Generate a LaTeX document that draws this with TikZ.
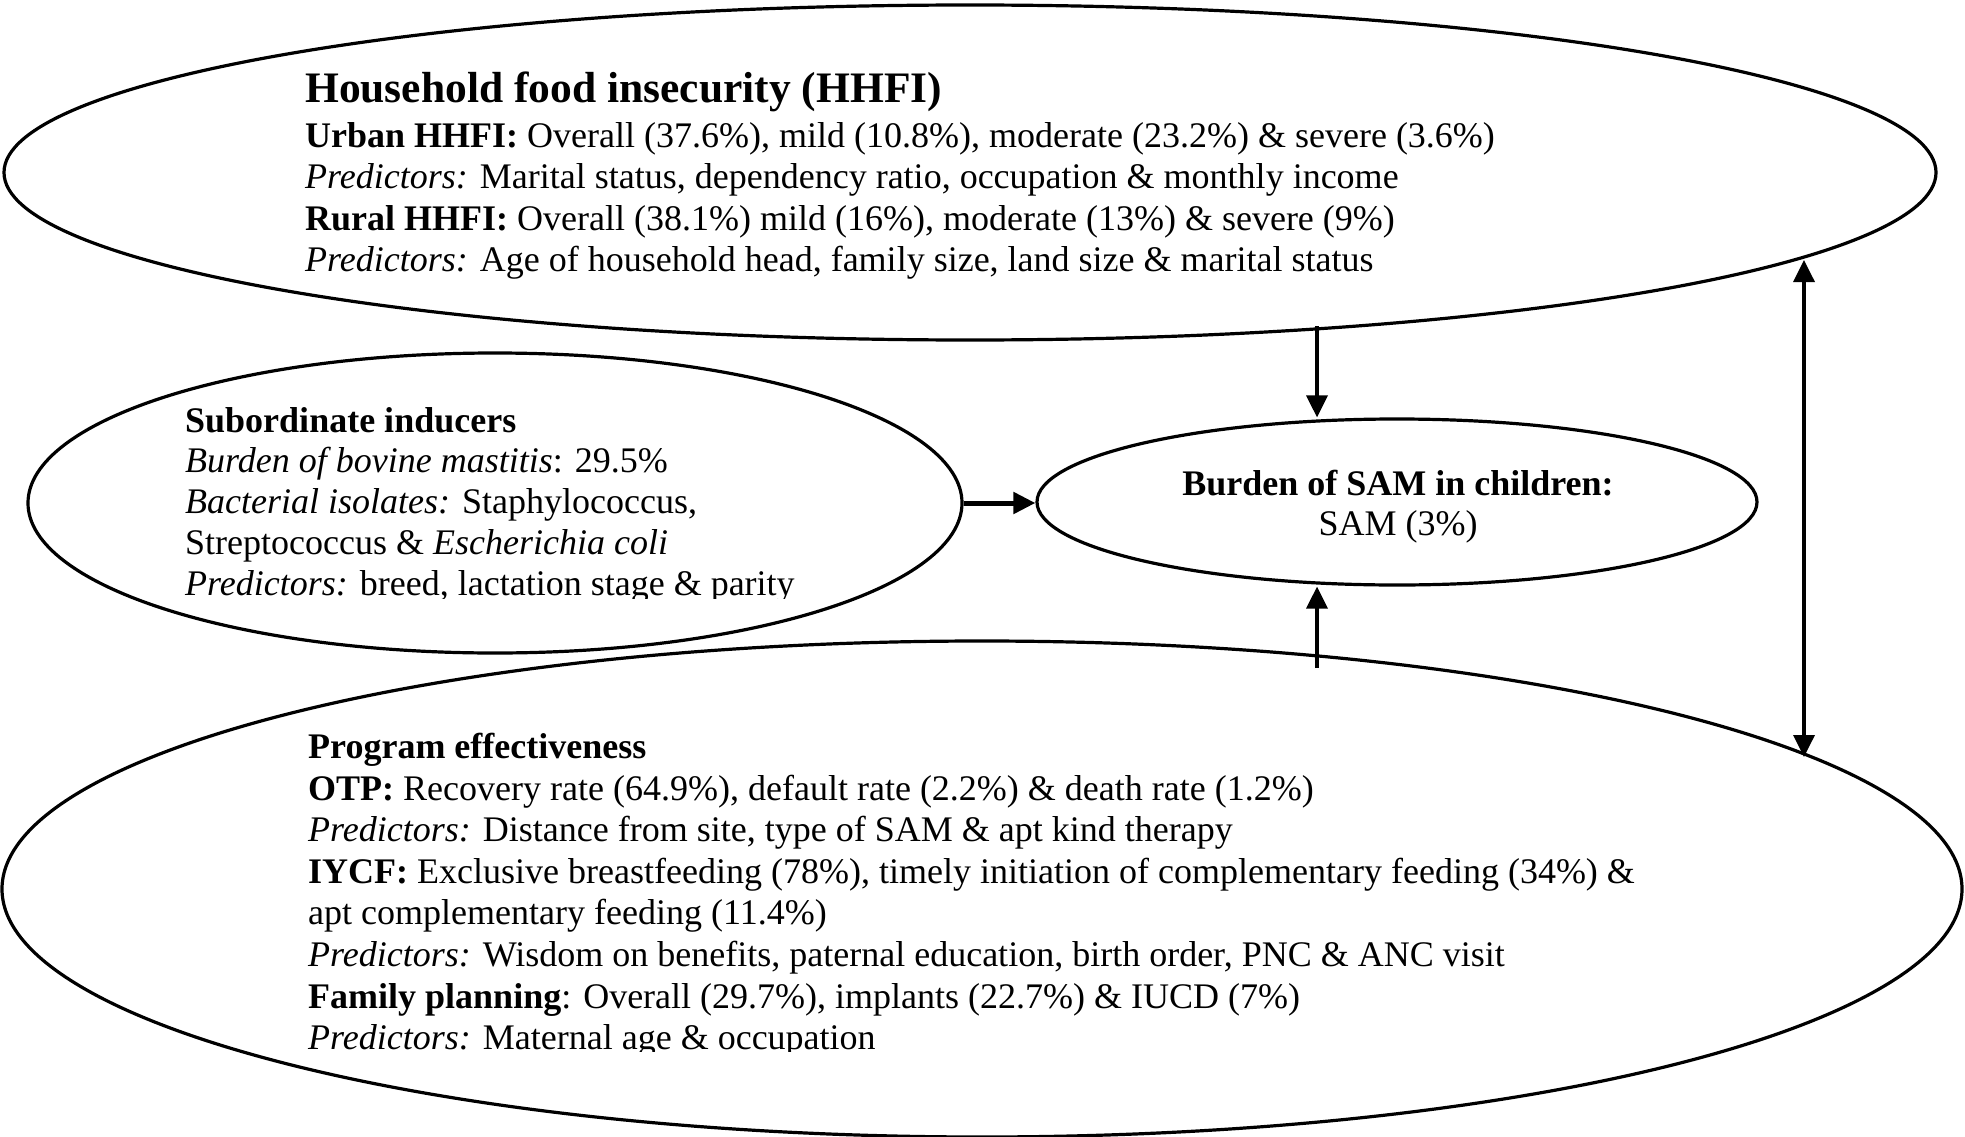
\documentclass[tikz,border=0pt]{standalone}
\usepackage{fontspec}
\setmainfont{Liberation Serif}
\usetikzlibrary{arrows.meta,shapes.geometric}
\newcommand\bodyfont{\fontsize{36}{41.7}\selectfont}
\newcommand\headfont{\fontsize{43.5}{50}\selectfont\bfseries}
\begin{document}
\begin{tikzpicture}[x=1pt,y=-1pt,
  ell/.style={draw, ellipse, line width=3.2pt, inner sep=0pt},
  ln/.style={anchor=base west, inner sep=0pt, font=\bodyfont},
  ctr/.style={anchor=base, inner sep=0pt, font=\bodyfont},
  conn/.style={line width=3.5pt, line cap=butt},
  >={Triangle[length=22pt,width=21pt]},
]
\useasboundingbox (0,0) rectangle (1965,1137);
\fill[white] (0,0) rectangle (1965,1137);

% ellipses
\node[ell, minimum width=1932pt, minimum height=335pt] (hhfi) at (970,172.5) {};
\node[ell, minimum width=934pt, minimum height=300pt] (inducers) at (495,503) {};
\node[ell, minimum width=720pt, minimum height=166pt] (sam) at (1397,502) {};
\node[ell, minimum width=1960pt, minimum height=496pt] (prog) at (982,889) {};

% top text
\node[ln, font=\headfont] (h0) at (305,103) {Household food insecurity (HHFI)};
\node[ln] (h1) at (305,147) {\textbf{Urban HHFI:} Overall (37.6\%), mild (10.8\%), moderate (23.2\%) \& severe (3.6\%)};
\node[ln] (h2) at (305,188.5) {\textit{Predictors:} Marital status, dependency ratio, occupation \& monthly income};
\node[ln] (h3) at (305,230) {\textbf{Rural HHFI:} Overall (38.1\%) mild (16\%), moderate (13\%) \& severe (9\%)};
\node[ln] (h4) at (305,271.5) {\textit{Predictors:} Age of household head, family size, land size \& marital status};

% left text (last line clipped as in the original)
\begin{scope}
\clip (0,0) rectangle (1965,598);
\node[ln] (s0) at (185,432) {\textbf{Subordinate inducers}};
\node[ln] (s1) at (185,472) {\textit{Burden of bovine mastitis}: 29.5\%};
\node[ln] (s2) at (185,513) {\textit{Bacterial isolates:} Staphylococcus,};
\node[ln] (s3) at (185,554) {Streptococcus \& \textit{Escherichia coli}};
\node[ln] (s4) at (185,595) {\textit{Predictors:} breed, lactation stage \& parity};
\end{scope}

% SAM text
\node[ctr] (m0) at (1398,495) {\textbf{Burden of SAM in children:}};
\node[ctr] (m1) at (1398,535) {SAM (3\%)};

% bottom text (last line clipped as in the original)
\begin{scope}
\clip (0,0) rectangle (1965,1051);
\node[ln] (p0) at (308,758.5) {\textbf{Program effectiveness}};
\node[ln] (p1) at (308,800.5) {\textbf{OTP:} Recovery rate (64.9\%), default rate (2.2\%) \& death rate (1.2\%)};
\node[ln] (p2) at (308,841.5) {\textit{Predictors:} Distance from site, type of SAM \& apt kind therapy};
\node[ln] (p3) at (308,883.5) {\textbf{IYCF:} Exclusive breastfeeding (78\%), timely initiation of complementary feeding (34\%) \&};
\node[ln] (p4) at (308,924.5) {apt complementary feeding (11.4\%)};
\node[ln] (p5) at (308,966.5) {\textit{Predictors:} Wisdom on benefits, paternal education, birth order, PNC \& ANC visit};
\node[ln] (p6) at (308,1008.5) {\textbf{Family planning}: Overall (29.7\%), implants (22.7\%) \& IUCD (7\%)};
\node[ln] (p7) at (308,1049) {\textit{Predictors:} Maternal age \& occupation};
\end{scope}

% connectors
\coordinate (a1) at (1317,326);
\coordinate (a2) at (1317,668);
\coordinate (d1) at (1804,260);
\coordinate (d2) at (1804,757);
\draw[conn, ->] (a1) -- (a1 |- sam.north);
\draw[conn, ->] (a2) -- (a2 |- sam.south);
\draw[conn, line width=5pt, ->] (inducers.east) -- (inducers.east -| sam.west);
\draw[conn, <->] (d1) -- (d2);
\end{tikzpicture}
\end{document}
